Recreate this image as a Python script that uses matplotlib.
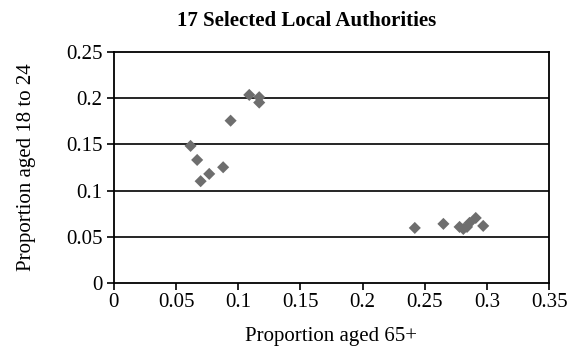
import matplotlib
matplotlib.use("Agg")
import matplotlib.pyplot as plt

# proportion aged 65+ and proportion aged 18 to 24, 17 local authorities
age_65 = [0.1089, 0.1169, 0.1169, 0.0939, 0.0617, 0.0670, 0.0879, 0.0767, 0.0698,
          0.242, 0.265, 0.278, 0.281, 0.284, 0.286, 0.291, 0.297]
age_18_24 = [0.2035, 0.2010, 0.1952, 0.1756, 0.1483, 0.1331, 0.1252, 0.1180, 0.1101,
             0.0595, 0.0639, 0.0606, 0.0584, 0.0606, 0.0650, 0.0703, 0.0617]

x_ticks = [0, 0.05, 0.1, 0.15, 0.2, 0.25, 0.3, 0.35]
x_labels = ["0", "0.05", "0.1", "0.15", "0.2", "0.25", "0.3", "0.35"]
y_ticks = [0, 0.05, 0.1, 0.15, 0.2, 0.25]
y_labels = ["0", "0.05", "0.1", "0.15", "0.2", "0.25"]

plt.rcParams["font.family"] = ["Liberation Serif", "DejaVu Serif"]

fig = plt.figure(figsize=(5.72, 3.51), dpi=100)
ax = fig.add_axes([0.199, 0.194, 0.761, 0.658])

for yv in y_ticks[1:-1]:
    ax.axhline(yv, color="black", lw=1.2, zorder=1)

ax.scatter(age_65, age_18_24, marker="D", s=38, color="#6e6e6e",
           edgecolors="none", zorder=3)

ax.set_xlim(0, 0.35)
ax.set_ylim(0, 0.25)
ax.set_xticks(x_ticks)
ax.set_xticklabels(x_labels)
ax.set_yticks(y_ticks)
ax.set_yticklabels(y_labels)
ax.tick_params(direction="out", length=5, width=1.2, labelsize=15)
ax.tick_params(axis="x", pad=2)
ax.tick_params(axis="y", pad=3)

for sp in ax.spines.values():
    sp.set_linewidth(1.3)

ax.set_xlabel("Proportion aged 65+", fontsize=15, labelpad=11)
ax.set_ylabel("Proportion aged 18 to 24", fontsize=15, labelpad=22)
fig.text(0.536, 0.94, "17 Selected Local Authorities", ha="center", va="center",
         fontsize=15, fontweight="bold")

fig.savefig("out.png", dpi=100)
